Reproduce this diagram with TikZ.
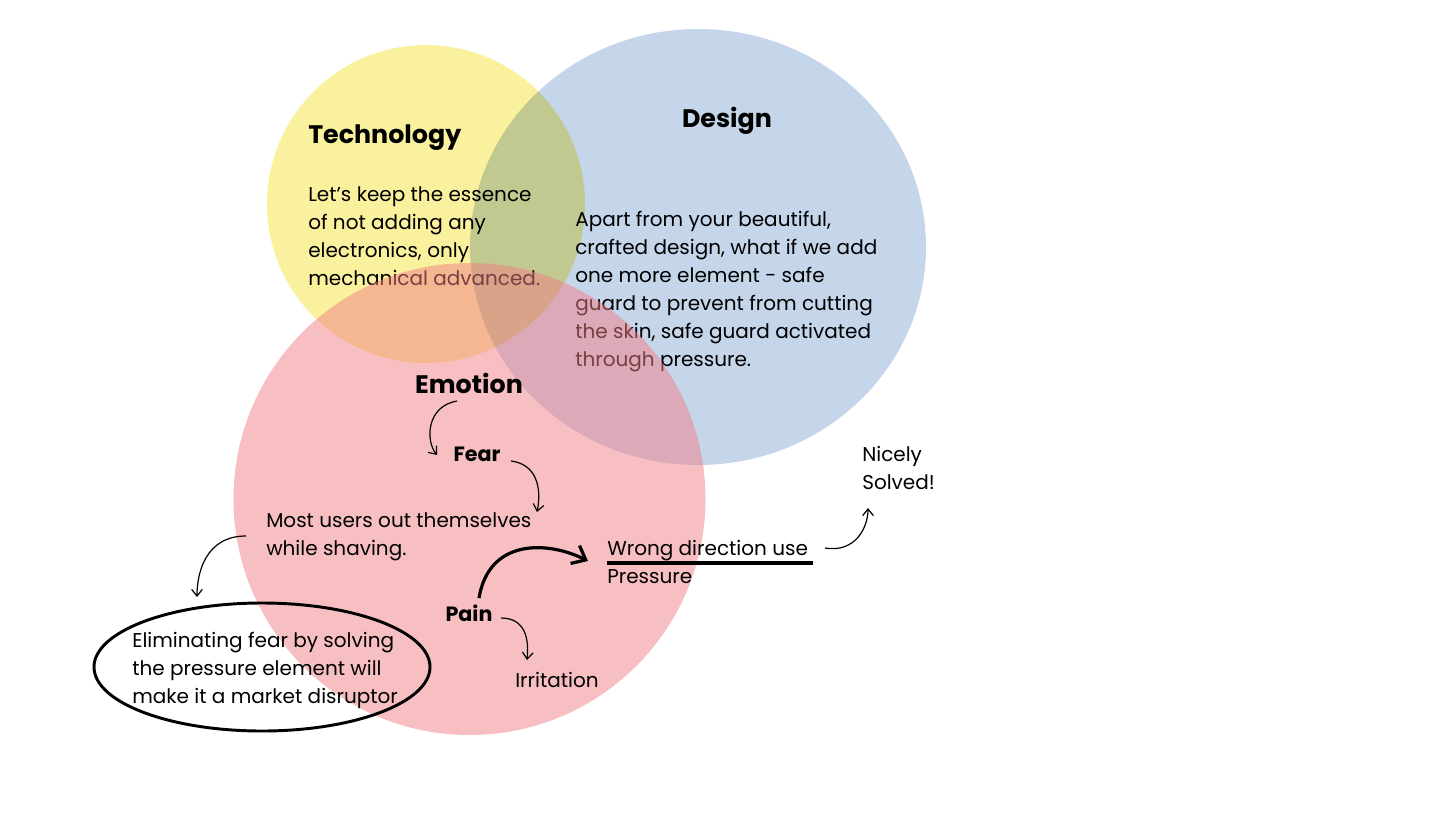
\documentclass[tikz,border=0pt]{standalone}
\usepackage{fontspec}
\setmainfont{Poppins}
\usetikzlibrary{arrows.meta}
\definecolor{yel}{RGB}{250,241,158}
\definecolor{blu}{RGB}{197,213,234}
\definecolor{redc}{RGB}{241,127,133}
\begin{document}
\begin{tikzpicture}[x=0.75pt,y=-0.75pt,
  body/.style={font=\fontsize{15pt}{21pt}\selectfont, align=left, inner sep=0pt, anchor=north west},
  line1/.style={font=\fontsize{15pt}{21pt}\selectfont, inner sep=0pt, anchor=base west},
  head/.style={font=\fontsize{19pt}{22pt}\selectfont\bfseries, inner sep=0pt, anchor=base},
  sub/.style={font=\fontsize{15.5pt}{21pt}\selectfont\bfseries, inner sep=0pt, anchor=base},
  arr/.style={-{Straight Barb[length=5pt,width=8pt]}, line width=0.9pt},
  bigarr/.style={-{Straight Barb[length=9pt,width=15pt]}, line width=2.4pt}]
\useasboundingbox (0,0) rectangle (1448,815);
% circles
\fill[yel] (426,204) circle [radius=159];
\begin{scope}[blend mode=multiply]
\fill[blu] (698,247) ellipse [x radius=228, y radius=218];
\end{scope}
% technology and design
\node[head, anchor=base west] (tech) at (308,143) {Technology};
\node[body] (techtxt) at (308,186) {Let’s keep the essence\\of not adding any\\electronics, only\\mechanical advanced.};
\node[head] (design) at (727,127) {Design};
\node[body] (destxt) at (575,211) {Apart from your beautiful,\\crafted design, what if we add\\one more element - safe\\guard to prevent from cutting\\the skin, safe guard activated\\through pressure.};
% emotion circle
\fill[redc, fill opacity=0.5] (469.5,499) circle [radius=236];
\node[head] (emo) at (469,393) {Emotion};
\node[sub] (fear) at (477,461) {Fear};
\node[body] (users) at (266,512) {Most users out themselves\\while shaving.};
\node[line1] (wrong) at (607,555) {Wrong direction use};
\node[line1] (press) at (607,583) {Pressure};
\node[sub] (pain) at (469,621) {Pain};
\node[line1] (irr) at (515,687) {Irritation};
\node[body] (nice) at (862,446) {Nicely\\Solved!};
\node[body] (disr) at (132,632) {Eliminating fear by solving\\the pressure element will\\make it a market disruptor};
\draw[line width=2.2pt] ([shift={(130,35)}]disr.north west) ellipse [x radius=168, y radius=64];
% underline
\draw[line width=2.4pt] ([yshift=-6]wrong.base west) -- ++(206,0);
% arrows
\draw[arr] ([shift={(-12,8)}]emo.base) .. controls +(-30,5) and +(-12,-15) .. ([shift={(-40,-6)}]fear.base);
\draw[arr] ([shift={(34,0)}]fear.base) .. controls +(25,3) and +(5,-25) .. ([shift={(60,51)}]fear.base);
\draw[arr] ([shift={(-20,24)}]users.north west) .. controls +(-40,0) and +(0,-25) .. ([shift={(-69,85)}]users.north west);
\draw[bigarr] ([shift={(10,-23)}]pain.base) .. controls +(10,-60) and +(-40,-20) .. ([shift={(-19,6)}]wrong.base west);
\draw[arr] ([shift={(32,-3)}]pain.base) .. controls +(25,0) and +(2,-20) .. ([shift={(58,39)}]pain.base);
\draw[arr] ([shift={(218,-7)}]wrong.base west) .. controls +(30,5) and +(0,20) .. ([shift={(6,62)}]nice.north west);
\end{tikzpicture}
\end{document}
